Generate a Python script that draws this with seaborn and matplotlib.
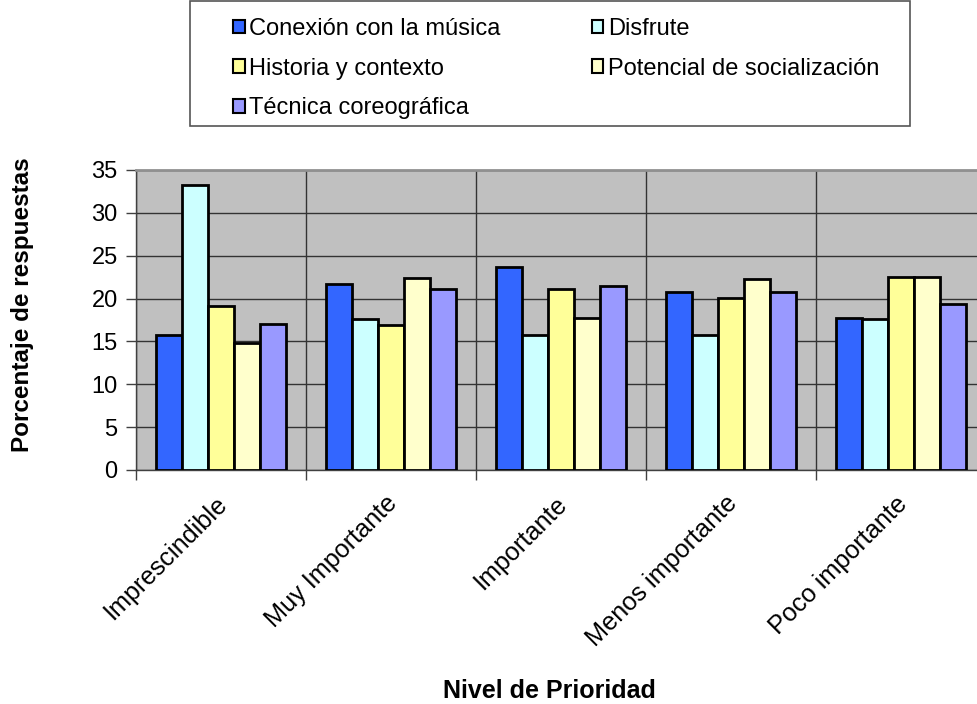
import matplotlib
matplotlib.use("Agg")
import matplotlib.pyplot as plt
from matplotlib.patches import Rectangle, Patch
from matplotlib.ticker import FixedLocator, MultipleLocator
from matplotlib.transforms import ScaledTranslation
import numpy as np
import pandas as pd
import seaborn as sns

# Categories and series
niveles = ["Imprescindible", "Muy Importante", "Importante",
           "Menos importante", "Poco importante"]
series = ["Conexión con la música", "Disfrute", "Historia y contexto",
          "Potencial de socialización", "Técnica coreográfica"]

conexion = [15.7, 21.7, 23.7, 20.8, 17.7]
disfrute = [33.2, 17.6, 15.7, 15.7, 17.6]
historia = [19.1, 16.9, 21.1, 20.1, 22.5]
potencial = [14.8, 22.4, 17.7, 22.3, 22.5]
tecnica = [17.0, 21.1, 21.5, 20.8, 19.4]

colores = ["#3366FF", "#CCFFFF", "#FFFF99", "#FFFFCC", "#9999FF"]

valores = [conexion, disfrute, historia, potencial, tecnica]
df = pd.DataFrame({
    "Nivel": np.repeat([niveles], len(series), axis=0).ravel(),
    "Serie": np.repeat(series, len(niveles)),
    "Porcentaje": np.concatenate(valores),
})

sns.set_theme(style="white")
plt.rcParams["font.family"] = ["Liberation Sans", "DejaVu Sans"]
plt.rcParams["text.color"] = "black"
plt.rcParams["xtick.color"] = "black"
plt.rcParams["ytick.color"] = "black"
plt.rcParams["axes.labelcolor"] = "black"

W, H = 977, 704
fig = plt.figure(figsize=(W / 100, H / 100), dpi=100)
ax = fig.add_axes([135.7 / W, 1 - 470 / H, 850.6 / W, 300 / H])
ax.set_facecolor("#C0C0C0")

sns.barplot(data=df, x="Nivel", y="Porcentaje", hue="Serie",
            order=niveles, hue_order=series, palette=colores,
            width=0.765, edgecolor="black", linewidth=2.0,
            saturation=1, legend=False, ax=ax, zorder=3)

ax.set_xlim(-0.5, len(niveles) - 0.5)
ax.set_ylim(0, 35)
ax.yaxis.set_major_locator(MultipleLocator(5))

# Category boundaries carry the tick marks and vertical grid
ax.xaxis.set_minor_locator(FixedLocator(np.arange(len(niveles) + 1) - 0.5))
ax.tick_params(axis="x", which="major", length=0, pad=14)
ax.tick_params(axis="x", which="minor", length=7, width=1, color="#404040",
               direction="out", bottom=True)
ax.tick_params(axis="y", length=7, width=1, color="#404040",
               direction="out", left=True, labelsize=17, pad=6)
ax.grid(True, axis="y", color="#333333", linewidth=1, zorder=0)
ax.grid(True, axis="x", which="minor", color="#333333", linewidth=1, zorder=0)
ax.grid(False, axis="x", which="major")
ax.set_axisbelow(True)

ax.set_xticks(range(len(niveles)))
ax.set_xticklabels(niveles, rotation=45, ha="right", rotation_mode="anchor",
                   fontsize=18.2)
shift = ScaledTranslation(-6 / 100, -2 / 100, fig.dpi_scale_trans)
for lbl in ax.get_xticklabels():
    lbl.set_transform(lbl.get_transform() + shift)

for side in ["left", "bottom"]:
    ax.spines[side].set_color("#404040")
    ax.spines[side].set_linewidth(1)
ax.spines["top"].set_color("#909090")
ax.spines["top"].set_linewidth(2)
ax.spines["right"].set_visible(False)

ax.set_xlabel("")
ax.set_ylabel("")
fig.text(23 / W, 1 - 305 / H, "Porcentaje de respuestas", fontsize=17.5,
         fontweight="bold", rotation=90, ha="center", va="center")
fig.text(549 / W, 1 - 691 / H, "Nivel de Prioridad", fontsize=18,
         fontweight="bold", ha="center", va="center")

# Legend box
fig.patches.append(Rectangle((190 / W, 1 - 126 / H), 720 / W, 125 / H,
                             transform=fig.transFigure, facecolor="white",
                             edgecolor="#555555", linewidth=1.2))
handles = [Patch(facecolor=c, edgecolor="black", linewidth=1.5)
           for c in colores]
orden = [0, 2, 4, 1, 3]
fig.legend([handles[i] for i in orden], [series[i] for i in orden],
           ncol=2, frameon=False, fontsize=17,
           loc="upper left", bbox_to_anchor=(221 / W, 1 - 6 / H),
           handlelength=0.5, handleheight=0.5, handletextpad=0.2,
           columnspacing=3.85, labelspacing=0.75, borderpad=0)

fig.savefig("out.png", dpi=100)
